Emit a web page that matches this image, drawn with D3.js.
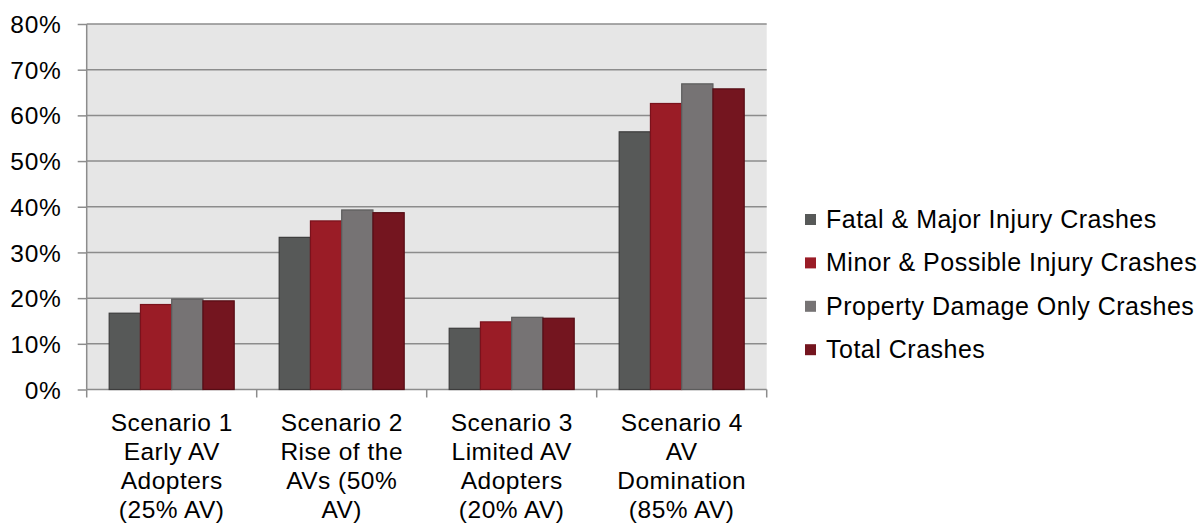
<!DOCTYPE html>
<html>
<style>
body { margin: 0; background: #fff; }
text { font-family: "Liberation Sans", Arial, sans-serif; fill: #000; }
</style>
<body>
<script src="https://d3js.org/d3.v7.min.js"></script>
<script>
var scenarios = [
  ["Scenario 1", "Early AV", "Adopters", "(25% AV)"],
  ["Scenario 2", "Rise of the", "AVs (50%", "AV)"],
  ["Scenario 3", "Limited AV", "Adopters", "(20% AV)"],
  ["Scenario 4", "AV", "Domination", "(85% AV)"]
];
var series = ["Fatal & Major Injury Crashes", "Minor & Possible Injury Crashes", "Property Damage Only Crashes", "Total Crashes"];
var fatal = [0.167, 0.333, 0.134, 0.564];
var minor = [0.186, 0.369, 0.148, 0.626];
var property = [0.198, 0.393, 0.158, 0.669];
var total = [0.194, 0.387, 0.156, 0.658];
var yTicks = [0, 0.1, 0.2, 0.3, 0.4, 0.5, 0.6, 0.7, 0.8];

var values = [fatal, minor, property, total];
var fills = ["#575958", "#9a1c26", "#767374", "#74151f"];
var strokes = ["#3c3c3c", "#7a121c", "#5c5c5c", "#560c14"];

var width = 1201, height = 527;
var plotLeft = 86.7, plotRight = 766.7, plotTop = 24, plotBottom = 389.5;

var svg = d3.select("body").append("svg")
  .attr("width", width)
  .attr("height", height);

var x0 = d3.scaleBand()
  .domain(d3.range(scenarios.length))
  .range([plotLeft, plotRight]);

var x1 = d3.scaleBand()
  .domain(d3.range(series.length))
  .range([0, x0.bandwidth()])
  .paddingInner(0)
  .paddingOuter(0.72);

var y = d3.scaleLinear()
  .domain([0, 0.8])
  .range([plotBottom, plotTop]);

// plot background
svg.append("rect")
  .attr("x", plotLeft).attr("y", plotTop)
  .attr("width", plotRight - plotLeft).attr("height", plotBottom - plotTop)
  .attr("fill", "#e6e6e6");

// y axis ticks + labels
var yAxis = svg.append("g")
  .attr("transform", "translate(" + plotLeft + ",0)")
  .call(d3.axisLeft(y).tickValues(yTicks).tickFormat(d3.format(".0%")).tickSize(9).tickPadding(16));
yAxis.select(".domain").remove();
yAxis.selectAll(".tick line").attr("stroke", "#8c8c8c").attr("stroke-width", 1.5);
yAxis.selectAll(".tick text")
  .attr("font-family", null)
  .style("font-size", "24.5px").style("letter-spacing", "0.8px")
  .attr("fill", "#000")
  .attr("dy", "0.35em");

// gridlines
svg.append("g").selectAll("line")
  .data(yTicks)
  .join("line")
  .attr("x1", plotLeft).attr("x2", plotRight)
  .attr("y1", function(d) { return y(d); })
  .attr("y2", function(d) { return y(d); })
  .attr("stroke", "#8c8c8c")
  .attr("stroke-width", 1.5);

// bars
var groups = svg.append("g").selectAll("g")
  .data(scenarios)
  .join("g")
  .attr("transform", function(d, i) { return "translate(" + x0(i) + ",0)"; });

groups.selectAll("rect")
  .data(function(d, i) { return values.map(function(v, s) { return { s: s, v: v[i] }; }); })
  .join("rect")
  .attr("x", function(d) { return x1(d.s); })
  .attr("width", x1.bandwidth())
  .attr("y", function(d) { return y(d.v); })
  .attr("height", function(d) { return plotBottom - y(d.v); })
  .attr("fill", function(d) { return fills[d.s]; })
  .attr("stroke", function(d) { return strokes[d.s]; })
  .attr("stroke-width", 1.2);

// left axis line
svg.append("line")
  .attr("x1", plotLeft).attr("x2", plotLeft)
  .attr("y1", plotTop).attr("y2", plotBottom)
  .attr("stroke", "#8c8c8c").attr("stroke-width", 1.5);

// x axis ticks
var xBounds = d3.range(scenarios.length + 1).map(function(i) { return plotLeft + i * x0.step(); });
svg.append("g").selectAll("line")
  .data(xBounds)
  .join("line")
  .attr("x1", function(d) { return d; }).attr("x2", function(d) { return d; })
  .attr("y1", plotBottom).attr("y2", plotBottom + 8)
  .attr("stroke", "#8c8c8c").attr("stroke-width", 1.5);

// x labels
var labels = svg.append("g").selectAll("text")
  .data(scenarios)
  .join("text")
  .attr("text-anchor", "middle")
  .style("font-size", "24.5px")
  .style("letter-spacing", "0.5px")
  .attr("transform", function(d, i) { return "translate(" + (x0(i) + x0.bandwidth() / 2) + ",0)"; });
labels.selectAll("tspan")
  .data(function(d) { return d; })
  .join("tspan")
  .attr("x", 0)
  .attr("y", function(d, i) { return 431 + i * 29; })
  .text(function(d) { return d; });

// legend
var legend = svg.append("g").selectAll("g")
  .data(series)
  .join("g")
  .attr("transform", function(d, i) { return "translate(805," + (219 + i * 43.4) + ")"; });
legend.append("rect")
  .attr("x", 0).attr("y", -5)
  .attr("width", 11).attr("height", 11)
  .attr("fill", function(d, i) { return fills[i]; });
legend.append("text")
  .attr("x", 21)
  .attr("dy", "0.36em")
  .style("font-size", "25px")
  .style("letter-spacing", "0.5px")
  .text(function(d) { return d; });
</script>
</body>
</html>
